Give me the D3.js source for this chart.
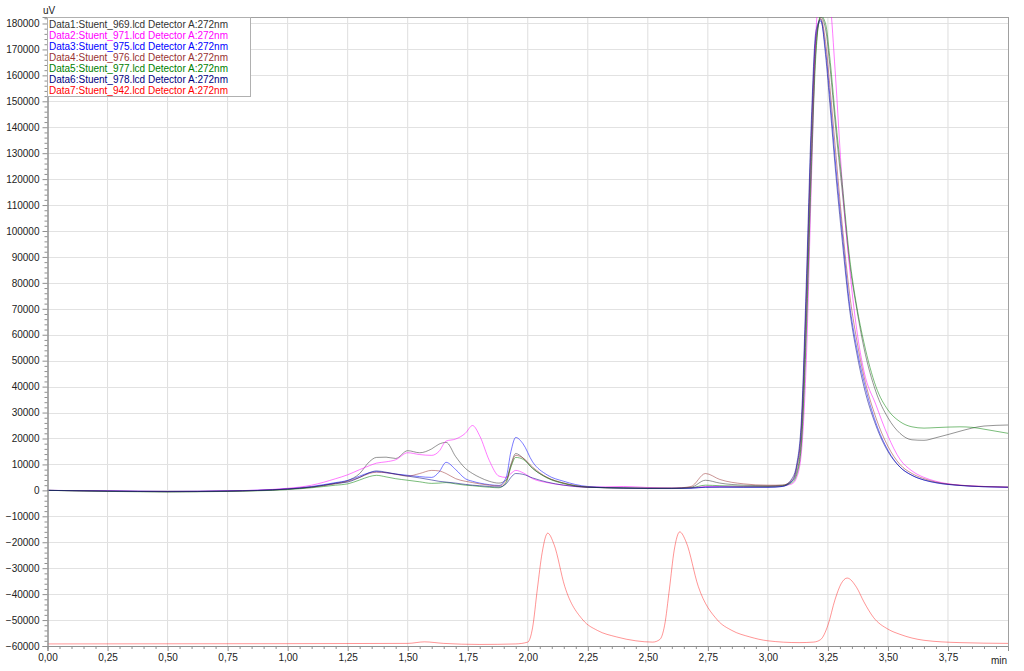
<!DOCTYPE html>
<html><head><meta charset="utf-8">
<script src="https://cdn.jsdelivr.net/npm/d3@7"></script>
<style>
body{margin:0;background:#fff;}
text{font-family:"Liberation Sans",Arial,sans-serif;}
</style></head>
<body><svg id="c" width="1024" height="671"></svg>
<script>
const times = [0,0.25,0.5,0.75,1.0,1.1,1.2,1.25,1.3,1.34,1.37,1.41,1.45,1.5,1.55,1.6,1.63,1.66,1.7,1.74,1.77,1.8,1.84,1.88,1.91,1.93,1.95,1.98,2.02,2.08,2.15,2.25,2.4,2.5,2.6,2.68,2.74,2.8,2.9,3.0,3.06,3.1,3.12,3.14,3.16,3.18,3.2,3.22,3.24,3.26,3.28,3.31,3.34,3.37,3.4,3.45,3.5,3.55,3.6,3.65,3.7,3.8,3.85,3.9,4.0];
const data1 = [0,-300,-500,-300,500,1200,2800,3800,6500,11000, 12700,12800,12300,15300,14500,16000,17800,18500,13000,8500, 6500,5000,3500,2800,4000,10000,14200,12500,8500,5000, 2800,1300,900,800,800,1200,3900,2800,2000,1800, 2000,3500,7000,20000,65000,125000,170000,182500,178000,162000,142000,115000,88000, 70000,55000,38000,28000,22000,19500,19300,20300,22800,24000,24800,25200];
const data2 = [0,-200,-400,-200,800,2000,4500,6000,8000,9500, 10500,11000,11800,14500,13800,13500,15000,19000,19800,22000, 25000,21000,11500,5500,5000,6500,7700,6800,4500,3000, 2000,1200,1500,1100,900,1000,1500,1500,1500,1500, 1800,2500,5000,15000,50000,115000,176000,195000,200000,188000,162000,118000,86000, 62000,46000,33000,21000,12000,7500,5000,3500,2000,1700,1500,1200];
const data3 = [0,-200,-400,-200,600,1500,3000,3800,5500,6800, 7200,6800,6300,5800,5300,5000,7000,10800,8000,4500, 3500,2800,2200,1900,5000,15000,20400,18000,11000,6000, 3500,1500,900,700,700,800,1200,1300,1200,1200, 1500,3500,9000,25000,75000,135000,175000,181000,170000,150000,128000,99000,72000, 55000,42000,26000,15500,9000,5800,4000,2900,1900,1600,1400,1200];
const data4 = [0,-300,-500,-300,500,1300,2500,3500,5000,6500, 7000,6800,6200,5500,6500,7700,7500,6500,4500,3500, 3000,2500,2000,1700,3500,9500,13500,12500,9000,5000, 2800,1300,900,800,800,1500,6500,4200,2500,2000, 2000,4000,8500,24000,72000,132000,173000,182000,173000,154000,133000,102000,76000, 58000,44000,28000,17000,10000,6500,4500,3200,2000,1700,1500,1300];
const data5 = [0,-400,-600,-400,300,1000,2000,2500,4000,5300, 5800,5200,4500,3900,3300,2700,2800,3000,2500,2000, 1800,1500,1200,1000,3000,9000,12700,12000,8500,4800, 2600,1200,900,800,800,1000,2000,1800,1600,1500, 1800,3000,6000,18000,60000,120000,168000,183000,180000,165000,145000,118000,90000, 71000,57000,40000,31000,26500,24500,24000,24200,24500,24300,23600,22000];
const data6 = [0,-300,-500,-300,500,1300,2700,3200,5000,6800, 7500,7000,6300,5500,4800,4000,3500,3200,2800,2300, 2000,1800,1500,1300,2500,5000,6500,6200,4800,3200, 2000,1200,900,800,800,900,1200,1200,1200,1200, 1500,4500,10000,28000,80000,140000,177000,181500,168000,147000,125000,96000,70000, 53000,40000,25000,15000,9000,5800,4000,3000,1900,1600,1400,1200];
const redTimes = [0,1.0,1.5,1.57,1.65,1.8,1.95,2.0,2.02,2.04,2.06,2.083,2.11,2.154,2.23,2.29,2.37,2.45,2.52,2.55,2.57,2.59,2.61,2.633,2.66,2.71,2.79,2.85,2.925,3.0,3.13,3.19,3.22,3.25,3.28,3.305,3.33,3.37,3.4,3.44,3.5,3.55,3.65,3.8,4.0];
const data7 = [-59200,-59100,-59000,-58400,-59000,-59400,-59200,-58500,-53000,-38000, -24000,-16500,-21000,-37000,-50000,-54000,-56500,-58000,-58500,-57500, -52000,-38000,-23000,-16000,-20000,-37000,-50000,-54000,-56500,-58000, -58700,-58500,-57500,-52000,-42000,-36000,-33800,-37500,-43000,-49000, -53500,-55500,-57800,-58700,-59000];
const legendLabels = ["Data1:Stuent_969.lcd Detector A:272nm","Data2:Stuent_971.lcd Detector A:272nm","Data3:Stuent_975.lcd Detector A:272nm","Data4:Stuent_976.lcd Detector A:272nm","Data5:Stuent_977.lcd Detector A:272nm","Data6:Stuent_978.lcd Detector A:272nm","Data7:Stuent_942.lcd Detector A:272nm"];
const seriesColors = ["#333333","#ff00ff","#0000ff","#993333","#008000","#000080","#ff0000"];
const xTicks = [0,0.25,0.5,0.75,1.0,1.25,1.5,1.75,2.0,2.25,2.5,2.75,3.0,3.25,3.5,3.75];
const yTicks = d3.range(-60000, 180001, 10000);

const L = 47.5, R = 1008, T = 17, B = 646;
const x = d3.scaleLinear().domain([0,4]).range([L, R]);
const y = d3.scaleLinear().domain([-60000, 182500]).range([B, T]);
const svg = d3.select("#c");
svg.append("rect").attr("width",1024).attr("height",671).attr("fill","#fff");

// grid
const g = svg.append("g");
g.selectAll(".vg").data(xTicks.filter(d=>d>0)).join("line")
 .attr("x1",d=>x(d)).attr("x2",d=>x(d)).attr("y1",T).attr("y2",B)
 .attr("stroke","#dedede").attr("stroke-width",1);
g.selectAll(".hg").data(yTicks).join("line")
 .attr("x1",L).attr("x2",R).attr("y1",d=>Math.round(y(d))+0.5).attr("y2",d=>Math.round(y(d))+0.5)
 .attr("stroke","#e2e2e2").attr("stroke-width",1);

// borders
svg.append("line").attr("x1",L).attr("x2",R).attr("y1",T+0.5).attr("y2",T+0.5).attr("stroke","#a0a0a0");
svg.append("line").attr("x1",R+0.5).attr("x2",R+0.5).attr("y1",T).attr("y2",B).attr("stroke","#a0a0a0");

// clip
svg.append("clipPath").attr("id","clip").append("rect").attr("x",L).attr("y",T).attr("width",R-L).attr("height",B-T);

const line = d3.line().curve(d3.curveMonotoneX);
const mainSeries = [data1,data2,data3,data4,data5,data6];
const plot = svg.append("g").attr("clip-path","url(#clip)");
mainSeries.forEach((s,i)=>{
  plot.append("path").attr("d", line(times.map((t,j)=>[x(t), y(s[j])])))
    .attr("fill","none").attr("stroke",seriesColors[i]).attr("stroke-width",0.7).attr("stroke-opacity",0.75);
});
plot.append("path").attr("d", line(redTimes.map((t,j)=>[x(t), y(data7[j])])))
  .attr("fill","none").attr("stroke",seriesColors[6]).attr("stroke-width",0.7).attr("stroke-opacity",0.6);

// axes
const fmtX = d=>d3.format(".2f")(d).replace(".",",");
const xAxis = svg.append("g").attr("transform",`translate(0,${B})`)
  .call(d3.axisBottom(x).tickValues(xTicks).tickSize(5).tickPadding(3).tickFormat(fmtX));
const xMinor = svg.append("g").attr("transform",`translate(0,${B})`)
  .call(d3.axisBottom(x).tickValues(d3.range(0,80).map(i=>i*0.05).filter(v=>Math.abs(v*4-Math.round(v*4))>1e-6)).tickSize(3).tickFormat(""));
const yAxis = svg.append("g").attr("transform",`translate(${L},0)`)
  .call(d3.axisLeft(y).tickValues(yTicks).tickSize(5).tickPadding(3).tickFormat(d3.format("d")));
const yMinor = svg.append("g").attr("transform",`translate(${L},0)`)
  .call(d3.axisLeft(y).tickValues(d3.range(-60000,182001,2000).filter(v=>v%10000!==0)).tickSize(3).tickFormat(""));
[xAxis,xMinor,yAxis,yMinor].forEach(a=>{
  a.selectAll("path.domain").attr("stroke","#909090");
  a.selectAll(".tick line").attr("stroke","#909090");
  a.selectAll("text").attr("fill","#222").style("font-size","10px").style("font-family","'Liberation Sans',Arial,sans-serif");
});

svg.append("text").attr("x",43).attr("y",14).text("uV").attr("fill","#222").style("font-size","10px");
svg.append("text").attr("x",1007).attr("y",664).attr("text-anchor","end").text("min").attr("fill","#222").style("font-size","10px");

// legend
const lg = svg.append("g");
lg.append("rect").attr("x",47.5).attr("y",17.5).attr("width",203).attr("height",79)
  .attr("fill","#fff").attr("stroke","#b0b0b0").attr("stroke-width",1);
legendLabels.forEach((t,i)=>{
  lg.append("text").attr("x",49).attr("y",27.5+i*11).text(t)
    .attr("fill",seriesColors[i]).style("font-size","10px");
});
</script></body></html>
